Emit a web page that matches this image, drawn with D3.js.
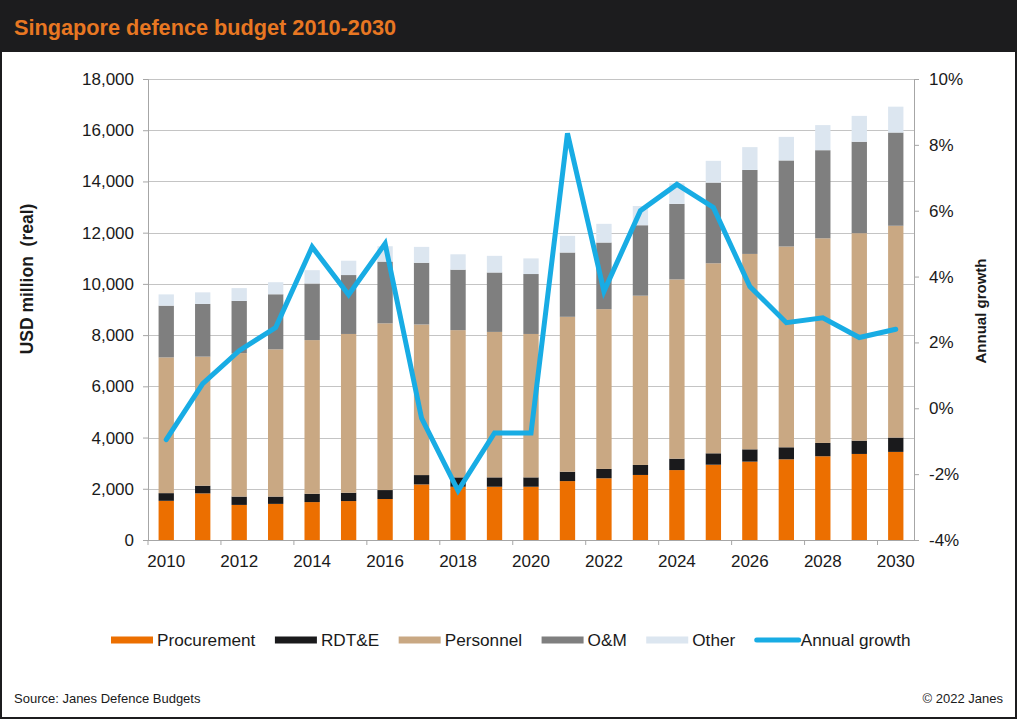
<!DOCTYPE html>
<html>
<head>
<meta charset="utf-8">
<script src="https://cdn.jsdelivr.net/npm/d3@7"></script>
<style>
  html, body { margin: 0; padding: 0; background: #fff; }
  svg { display: block; font-family: "Liberation Sans", Arial, Helvetica, sans-serif; }
</style>
</head>
<body>
<svg id="chart" width="1017" height="719"></svg>
<script>
// ---- data ----
const years = [2010,2011,2012,2013,2014,2015,2016,2017,2018,2019,2020,2021,2022,2023,2024,2025,2026,2027,2028,2029,2030];
const procurement = [1530,1820,1370,1410,1480,1520,1600,2170,2080,2080,2080,2300,2410,2540,2730,2940,3060,3150,3270,3360,3440];
const rdte        = [300,300,325,285,325,325,350,365,365,365,365,365,365,390,445,445,480,470,520,520,560];
const personnel   = [5300,5040,5600,5750,6000,6200,6510,5880,5750,5680,5600,6050,6240,6610,7000,7420,7630,7840,7990,8100,8270];
const om          = [2020,2060,2040,2150,2210,2300,2410,2410,2360,2320,2340,2510,2600,2750,2950,3150,3280,3360,3440,3570,3640];
const other       = [440,450,500,470,520,560,600,620,600,650,610,650,730,750,800,850,890,920,980,1010,1010];
const growth      = [-0.95,0.75,1.75,2.45,4.9,3.45,5.0,-0.3,-2.5,-0.75,-0.75,8.35,3.55,6.0,6.8,6.1,3.7,2.6,2.75,2.15,2.4];

const seriesNames = ["Procurement","RDT&E","Personnel","O&M","Other"];
const seriesValues = [procurement, rdte, personnel, om, other];
const leftTicks = [0,2000,4000,6000,8000,10000,12000,14000,16000,18000];
const rightTicks = [-4,-2,0,2,4,6,8,10];
const labelYears = years.filter(y => y % 2 === 0);

const colors = {
  "Procurement": "#EC6F00",
  "RDT&E": "#1A1A1C",
  "Personnel": "#C9A883",
  "O&M": "#7F7F7F",
  "Other": "#DCE6F0",
  "Annual growth": "#18ACE4"
};

// ---- layout ----
const W = 1017, H = 719;
const plot = { left: 148, right: 914, top: 79, bottom: 540 };
const svg = d3.select("#chart");

// frame + header
svg.append("rect").attr("x",0).attr("y",0).attr("width",W).attr("height",H).attr("fill","#1C1C1E");
svg.append("rect").attr("x",2).attr("y",52).attr("width",W-4).attr("height",H-54).attr("fill","#FFFFFF");
svg.append("text").attr("x",14).attr("y",35)
  .attr("font-size",21.7).attr("font-weight","bold").attr("fill","#E87722")
  .text("Singapore defence budget 2010-2030");

// scales
const x = d3.scaleBand().domain(years).range([plot.left, plot.right]).paddingInner(0.58).paddingOuter(0.29);
const yL = d3.scaleLinear().domain([0,18000]).range([plot.bottom, plot.top]);
const yR = d3.scaleLinear().domain([-4,10]).range([plot.bottom, plot.top]);

// gridlines
svg.append("g").selectAll("line").data(leftTicks.filter(d => d > 0)).join("line")
  .attr("x1", plot.left).attr("x2", plot.right)
  .attr("y1", d => Math.round(yL(d)) + 0.5).attr("y2", d => Math.round(yL(d)) + 0.5)
  .attr("stroke", "#C4C4C4").attr("stroke-width", 1);

// stacked bars
const table = years.map((yr, i) => {
  const o = { year: yr };
  seriesNames.forEach((s, k) => o[s] = seriesValues[k][i]);
  return o;
});
const stack = d3.stack().keys(seriesNames)(table);
svg.append("g").selectAll("g").data(stack).join("g")
  .attr("fill", d => colors[d.key])
  .selectAll("rect").data(d => d).join("rect")
  .attr("x", d => x(d.data.year))
  .attr("width", x.bandwidth())
  .attr("y", d => yL(d[1]))
  .attr("height", d => yL(d[0]) - yL(d[1]));

// axes styling helper
const axisColor = "#A6A6A6";
function styleAxis(g) {
  g.selectAll(".domain").attr("stroke", axisColor);
  g.selectAll(".tick line").attr("stroke", axisColor);
  g.selectAll(".tick text").attr("fill", "#1A1A1A").attr("font-size", 17)
    .attr("font-family", '"Liberation Sans", Arial, sans-serif');
}

// left axis
const gL = svg.append("g").attr("transform", `translate(${plot.left},0)`)
  .call(d3.axisLeft(yL).tickValues(leftTicks).tickFormat(d3.format(",")).tickSizeOuter(0).tickSize(5).tickPadding(9));
styleAxis(gL);

// right axis
const gR = svg.append("g").attr("transform", `translate(${plot.right},0)`)
  .call(d3.axisRight(yR).tickValues(rightTicks).tickFormat(d => d + "%").tickSizeOuter(0).tickSize(5).tickPadding(10));
styleAxis(gR);

// bottom axis: line, ticks at band boundaries before even years, labels centred on even years
const gB = svg.append("g");
gB.append("line").attr("x1", plot.left).attr("x2", plot.right)
  .attr("y1", plot.bottom + 0.5).attr("y2", plot.bottom + 0.5).attr("stroke", axisColor);
const step = x.step();
gB.selectAll("line.tk").data(labelYears).join("line").attr("class","tk")
  .attr("x1", d => x(d) + x.bandwidth()/2 - step/2).attr("x2", d => x(d) + x.bandwidth()/2 - step/2)
  .attr("y1", plot.bottom).attr("y2", plot.bottom + 5).attr("stroke", axisColor);
gB.selectAll("text").data(labelYears).join("text")
  .attr("x", d => x(d) + x.bandwidth()/2).attr("y", 567)
  .attr("text-anchor","middle").attr("font-size",17).attr("fill","#1A1A1A")
  .text(d => d);

// growth line
const line = d3.line().x((d, i) => x(years[i]) + x.bandwidth()/2).y(d => yR(d));
svg.append("path").datum(growth)
  .attr("d", line).attr("fill","none")
  .attr("stroke", colors["Annual growth"]).attr("stroke-width", 5)
  .attr("stroke-linejoin","miter").attr("stroke-linecap","round");

// axis titles
svg.append("text").attr("transform","translate(33,279) rotate(-90)")
  .attr("text-anchor","middle").attr("font-size",17.5).attr("font-weight","bold").attr("fill","#1A1A1A")
  .attr("xml:space","preserve").style("white-space","pre")
  .text("USD million  (real)");
svg.append("text").attr("transform","translate(986,311) rotate(-90)")
  .attr("text-anchor","middle").attr("font-size",15).attr("font-weight","bold").attr("fill","#1A1A1A")
  .text("Annual growth");

// legend
const legendItems = seriesNames.concat(["Annual growth"]);
const lg = svg.append("g");
let lx = 111;
const ly = 640;
legendItems.forEach(name => {
  if (name === "Annual growth") {
    lg.append("line").attr("x1", lx + 2).attr("x2", lx + 44).attr("y1", ly).attr("y2", ly)
      .attr("stroke", colors[name]).attr("stroke-width", 5).attr("stroke-linecap","round");
  } else {
    lg.append("rect").attr("x", lx).attr("y", ly - 3.5).attr("width", 42).attr("height", 7).attr("fill", colors[name]);
  }
  const t = lg.append("text").attr("x", lx + 46).attr("y", ly + 6)
    .attr("font-size", 17.2).attr("fill", "#1A1A1A").text(name);
  lx += 46 + t.node().getComputedTextLength() + 19.5;
});

// footer
svg.append("text").attr("x",14).attr("y",703).attr("font-size",13).attr("fill","#1A1A1A")
  .text("Source: Janes Defence Budgets");
svg.append("text").attr("x",1003).attr("y",703).attr("text-anchor","end").attr("font-size",13).attr("fill","#1A1A1A")
  .text("© 2022 Janes");
</script>
</body>
</html>
